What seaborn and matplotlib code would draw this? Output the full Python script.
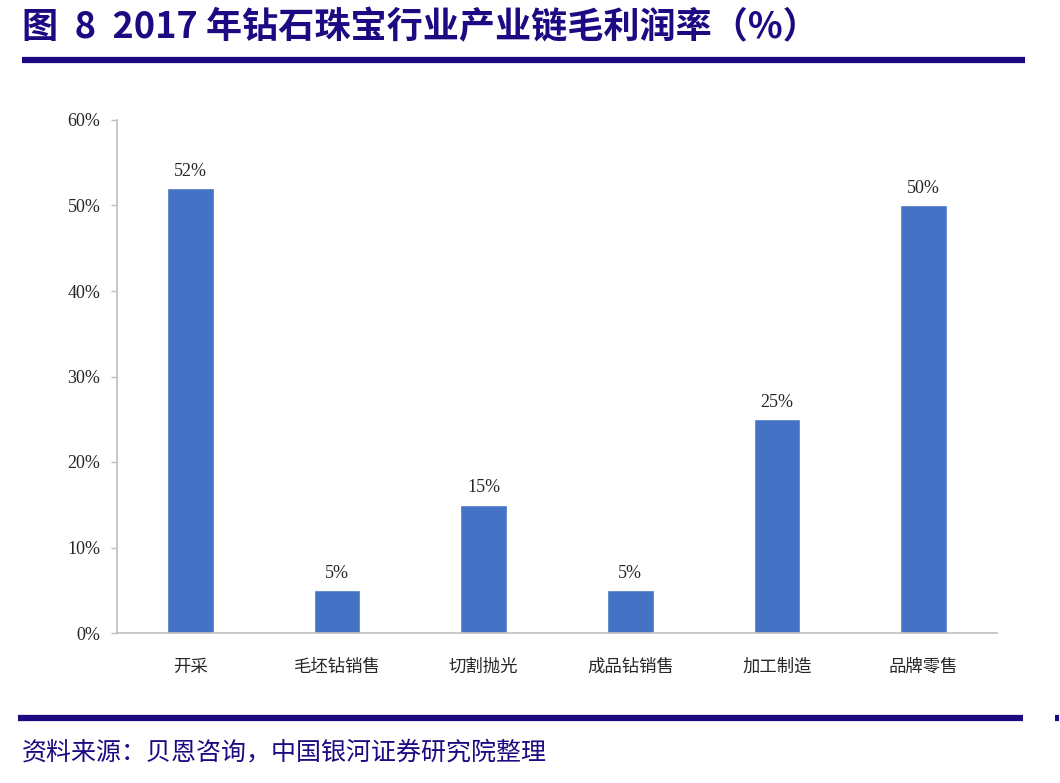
import matplotlib
matplotlib.use("Agg")
import matplotlib.pyplot as plt
import seaborn as sns
import pandas as pd
from matplotlib.lines import Line2D
from matplotlib.ticker import PercentFormatter

stages = ["开采", "毛坯钻销售", "切割抛光", "成品钻销售", "加工制造", "品牌零售"]
margins = [52, 5, 15, 5, 25, 50]
y_ticks = [0, 10, 20, 30, 40, 50, 60]

title_text = "图  8  2017 年钻石珠宝行业产业链毛利润率（%）"
source_text = "资料来源：贝恩咨询，中国银河证券研究院整理"

sns.set_theme(style="white")
plt.rcParams['font.family'] = ['Liberation Serif', 'Noto Sans CJK SC', 'DejaVu Sans']

navy = "#1B0A82"
bar_color = "#4472C4"
axis_gray = "#BFBFBF"

df = pd.DataFrame({"stage": stages, "margin": margins})

fig = plt.figure(figsize=(10.6, 7.83), dpi=100)
ax = fig.add_axes([117 / 1060, 1 - 633 / 783, (997 - 117) / 1060, (633 - 120) / 783])

sns.barplot(data=df, x="stage", y="margin", color=bar_color, width=0.32,
            saturation=1, ax=ax)

ax.set_ylim(0, 60)
ax.set_yticks(y_ticks)
ax.yaxis.set_major_formatter(PercentFormatter(decimals=0))
ax.set_xlabel("")
ax.set_ylabel("")

for s in ["top", "right"]:
    ax.spines[s].set_visible(False)
for s in ["left", "bottom"]:
    ax.spines[s].set_color(axis_gray)
    ax.spines[s].set_linewidth(1.2)

ax.tick_params(axis="y", left=True, length=4, width=1, color=axis_gray,
               labelsize=13, pad=8)
ax.tick_params(axis="x", bottom=False, pad=12)
for lab in ax.get_xticklabels():
    lab.set_family(['Noto Sans CJK SC', 'DejaVu Sans'])
    lab.set_fontsize(12.5)

for container in ax.containers:
    ax.bar_label(container, labels=[f"{v}%" for v in margins], padding=6,
                 fontsize=13, family=['Liberation Serif', 'DejaVu Sans'])

# header and footer
fig.text(22 / 1060, 1 - 28 / 783, title_text, fontsize=26, fontweight="bold",
         color=navy, va="center", ha="left",
         family=['Noto Sans CJK SC', 'DejaVu Sans'])
rule_kw = dict(color=navy, lw=4.5, solid_capstyle="butt", transform=fig.transFigure)
fig.add_artist(Line2D([22 / 1060, 1025 / 1060], [1 - 60 / 783] * 2, **rule_kw))
fig.add_artist(Line2D([18 / 1060, 1023 / 1060], [1 - 718 / 783] * 2, **rule_kw))
fig.add_artist(Line2D([1055 / 1060, 1059 / 1060], [1 - 718 / 783] * 2, **rule_kw))
fig.text(22 / 1060, 1 - 752 / 783, source_text, fontsize=18, style="italic",
         color=navy, va="center", ha="left",
         family=['Noto Sans CJK SC', 'DejaVu Sans'])

fig.savefig("out.png", dpi=100)
